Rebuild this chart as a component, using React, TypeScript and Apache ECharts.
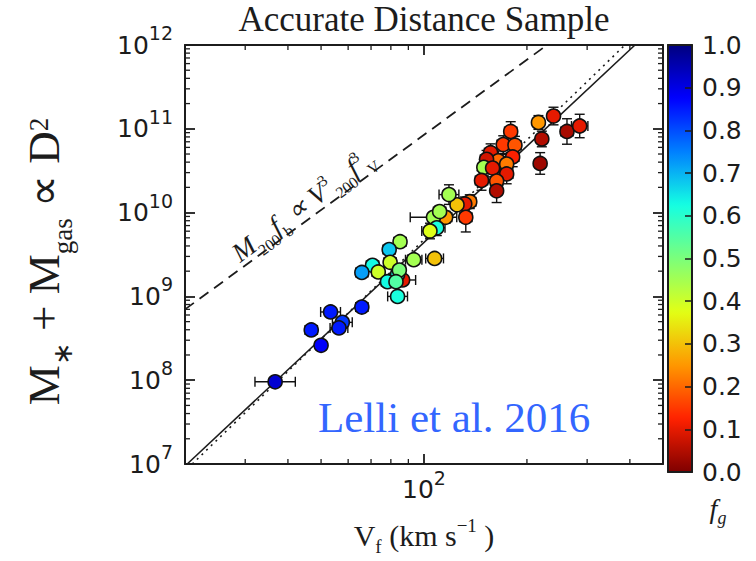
import React, { useEffect, useRef } from "react";
import * as echarts from "echarts";

// ---- Data (Lelli et al. 2016, accurate distance sample) ----
// Flat rotation velocity V_f (km/s)
const velocity = [
  179.3, 170.5, 184.5, 156.6, 181.7, 164.9, 152.4, 149.6, 158.7, 174.5,
  174.5, 147.3, 163.1, 163.1, 216.1, 239.2, 221.1, 218.6, 261.9, 285.3,
  136.1, 131.6, 124.9, 118.3, 132.5, 115.7, 106.6, 111.1, 109.0, 104.1,
  107.4, 93.3, 85.1, 79.1, 79.6, 70.7, 73.5, 65.8, 86.6, 83.7,
  84.7, 78.2, 82.8, 83.7,
  53.3, 65.8, 57.7, 56.4, 46.8, 50.0, 36.7,
];
// Baryonic mass M* + Mgas (solar masses)
const baryonicMass = [
  9.29e10, 6.48e10, 6.38e10, 5.19e10, 4.62e10, 4.15e10, 4.33e10, 3.47e10, 3.4e10, 3.79e10,
  2.89e10, 2.42e10, 2.38e10, 1.82e10, 1.19e11, 1.42e11, 7.56e10, 3.86e10, 9.29e10, 1.08e11,
  1.35e10, 1.27e10, 1.24e10, 1.64e10, 8.79e9, 8.79e9, 8.79e9, 1.03e10, 6.59e9, 6.03e9,
  2.84e9, 2.74e9, 4.49e9, 3.62e9, 2.55e9, 2.35e9, 1.96e9, 1.93e9, 1.57e9, 1.83e9,
  2.06e9, 1.5e9, 1.5e9, 1.0e9,
  6.52e8, 7.46e8, 4.9e8, 4.21e8, 3.98e8, 2.61e8, 9.58e7,
];
// Gas fraction f_g (colour)
const gasFraction = [
  0.15, 0.15, 0.18, 0.1, 0.12, 0.2, 0.08, 0.45, 0.1, 0.22,
  0.1, 0.1, 0.18, 0.05, 0.25, 0.1, 0.05, 0.03, 0.04, 0.1,
  0.22, 0.1, 0.3, 0.45, 0.15, 0.25, 0.45, 0.45, 0.62, 0.38,
  0.3, 0.45, 0.45, 0.68, 0.4, 0.63, 0.4, 0.72, 0.1, 0.62,
  0.5, 0.63, 0.55, 0.62,
  0.85, 0.85, 0.82, 0.85, 0.85, 0.88, 0.92,
];
// Errors in dex
const velocityErrDex = [
  0.018, 0.018, 0.018, 0.018, 0.018, 0.018, 0.018, 0.015, 0.018, 0.018,
  0.018, 0.018, 0.018, 0.015, 0.015, 0.015, 0.015, 0.015, 0.018, 0.024,
  0.018, 0.018, 0.015, 0.029, 0.018, 0.018, 0.068, 0.018, 0.024, 0.024,
  0.026, 0.024, 0.018, 0.018, 0.018, 0.018, 0.018, 0.018, 0.038, 0.018,
  0.018, 0.018, 0.018, 0.029,
  0.029, 0.018, 0.029, 0.026, 0.018, 0.015, 0.059,
];
const massErrDex = [
  0.117, 0.105, 0.105, 0.105, 0.117, 0.117, 0.105, 0.093, 0.105, 0.117,
  0.117, 0.117, 0.117, 0.14, 0.082, 0.105, 0.093, 0.129, 0.152, 0.14,
  0.082, 0.082, 0.058, 0.117, 0.175, 0.07, 0.058, 0.07, 0.093, 0.093,
  0.047, 0.047, 0.058, 0.047, 0.047, 0.047, 0.047, 0.047, 0.047, 0.047,
  0.047, 0.047, 0.047, 0.058,
  0.047, 0.047, 0.047, 0.047, 0.047, 0.047, 0.035,
];

// Relations (end points, V in km/s, M in solar masses)
const fitRelation = [[20.3, 1e7], [414, 1e12]];
const slopeFourRelation = [[21, 1e7], [387, 1e12]];
const baryonFractionRelation = [[20, 7.0e8], [229, 1e12]];

// Axes
const xRange = [20, 500];
const yRange = [1e7, 1e12];
const xMajorTicks = [100];
const xMinorTicks = [20, 30, 40, 50, 60, 70, 80, 90, 200, 300, 400, 500];
const yMajorTicks = [1e7, 1e8, 1e9, 1e10, 1e11, 1e12];
const yDecades = [1e7, 1e8, 1e9, 1e10, 1e11];
const minorMultipliers = [2, 3, 4, 5, 6, 7, 8, 9];
const yMinorTicks = yDecades.flatMap((d) => minorMultipliers.map((m) => m * d));
const colorbarRange = [0, 1];
const colorbarStep = 0.1;
// reversed "jet" colormap, from f_g = 0 to f_g = 1
const jetReversed = [
  "#7F0000", "#FF2100", "#FF9700", "#E2FF15", "#7BFF7B",
  "#15FFE2", "#0080FF", "#0000FF", "#00007F",
];

const INK = "#1c1c1c";
const SERIF = "Liberation Serif";
const SANS = "DejaVu Sans";
const MAJOR_LEN = 10;
const MINOR_LEN = 5;

function logAxis(dim: "x" | "y", position: string, showLine: boolean): any {
  const range = dim === "x" ? xRange : yRange;
  return {
    type: "log",
    logBase: 10,
    gridIndex: 0,
    position,
    min: range[0],
    max: range[1],
    axisLine: { show: showLine, onZero: false, lineStyle: { color: INK, width: 2 } },
    axisTick: { show: true, inside: true, length: MAJOR_LEN, lineStyle: { color: INK, width: 1.8 } },
    axisLabel: { show: false },
    splitLine: { show: false },
    minorTick: { show: false },
    minorSplitLine: { show: false },
    silent: true,
    z: 6,
  };
}

export default function App() {
  const ref = useRef<HTMLDivElement>(null);

  useEffect(() => {
    if (!ref.current) return;
    const chart = echarts.init(ref.current, null, { renderer: "svg" });

    const points = velocity.map((v, i) => [v, baryonicMass[i], gasFraction[i]]);
    const errorRows = velocity.map((v, i) => {
      const m = baryonicMass[i];
      const ex = Math.pow(10, velocityErrDex[i]);
      const ey = Math.pow(10, massErrDex[i]);
      return [v, m, v / ex, v * ex, m / ey, m * ey];
    });
    // minor tick rows: [x, y, direction(0 = x ticks, 1 = y ticks)]
    const minorTickRows = [
      ...xMinorTicks.map((v) => [v, yRange[0], 0]),
      ...yMinorTicks.map((v) => [xRange[0], v, 1]),
    ];

    const tickRich = {
      b: { fontFamily: SANS, fontSize: 25, lineHeight: 34, verticalAlign: "bottom", color: INK },
      s: { fontFamily: SANS, fontSize: 19, verticalAlign: "top", color: INK },
    };

    const xBottomMajor = logAxis("x", "bottom", true);
    xBottomMajor.axisLabel = {
      show: true,
      customValues: xMajorTicks,
      formatter: (v: number) => `{b|10}{s|${Math.round(Math.log10(v))}}`,
      margin: 4,
      rich: tickRich,
    };
    xBottomMajor.name = "{n|V}{sub|f}{n| (km s}{sup|−1}{n| )}";
    xBottomMajor.nameLocation = "middle";
    xBottomMajor.nameGap = 50;
    xBottomMajor.nameMoveOverlap = false;
    xBottomMajor.nameTextStyle = {
      rich: {
        n: { fontFamily: SERIF, fontSize: 30, lineHeight: 42, color: INK },
        sub: { fontFamily: SERIF, fontSize: 19, verticalAlign: "bottom", color: INK },
        sup: { fontFamily: SERIF, fontSize: 19, verticalAlign: "top", padding: [2, 0, 0, 0], color: INK },
      },
    };

    const yLeftMajor = logAxis("y", "left", true);
    yLeftMajor.axisLabel = {
      show: true,
      customValues: yMajorTicks,
      formatter: (v: number) => `{b|10}{s|${Math.round(Math.log10(v))}}`,
      margin: 12,
      padding: [0, 0, 9, 0],
      rich: tickRich,
    };
    yLeftMajor.name = "{n|M}{sub|∗}{n| + M}{sub|gas}{n| ∝ D}{sup|2}";
    yLeftMajor.nameLocation = "middle";
    yLeftMajor.nameGap = 109;
    yLeftMajor.nameMoveOverlap = false;
    yLeftMajor.nameTextStyle = {
      padding: [0, 14, 0, 0],
      rich: {
        n: { fontFamily: SERIF, fontSize: 45, lineHeight: 64, color: INK },
        sub: { fontFamily: SERIF, fontSize: 27, verticalAlign: "bottom", color: INK },
        sup: { fontFamily: SERIF, fontSize: 27, verticalAlign: "top", padding: [13, 0, 0, 0], color: INK },
      },
    };

    const cbarLine = { show: true, onZero: false, lineStyle: { color: INK, width: 2 } };
    const cbarX = (position: string) => ({
      type: "value", gridIndex: 1, position, min: 0, max: 1,
      axisLine: cbarLine, axisTick: { show: false }, axisLabel: { show: false },
      splitLine: { show: false }, silent: true, z: 10,
    });

    const eqRich = {
      i: { fontFamily: SERIF, fontStyle: "italic", fontSize: 27, lineHeight: 40, fill: INK, color: INK },
      sub: { fontFamily: SERIF, fontSize: 16, verticalAlign: "bottom", fill: INK, color: INK },
      sup: { fontFamily: SERIF, fontSize: 16, verticalAlign: "top", padding: [4, 0, 0, 0], fill: INK, color: INK },
    };

    const option: any = {
      animation: false,
      backgroundColor: "#ffffff",
      title: {
        text: "Accurate Distance Sample",
        left: 424,
        top: 2,
        textAlign: "center",
        padding: 0,
        textStyle: { fontFamily: SERIF, fontSize: 35, fontWeight: "normal", color: INK },
      },
      grid: [
        { left: 185, top: 45, width: 478, height: 427, containLabel: false },
        { left: 668, top: 45, width: 24, height: 427, containLabel: false },
      ],
      xAxis: [
        xBottomMajor,
        logAxis("x", "top", true),
        cbarX("bottom"),
        cbarX("top"),
      ],
      yAxis: [
        yLeftMajor,
        logAxis("y", "right", true),
        {
          type: "value", gridIndex: 1, position: "right",
          min: colorbarRange[0], max: colorbarRange[1], interval: colorbarStep,
          axisLine: cbarLine,
          axisTick: { show: true, inside: true, length: 7, lineStyle: { color: INK, width: 1.5 } },
          axisLabel: {
            formatter: (v: number) => v.toFixed(1),
            fontFamily: SANS, fontSize: 25, color: INK, margin: 10,
          },
          splitLine: { show: false }, silent: true, z: 10,
        },
        {
          type: "value", gridIndex: 1, position: "left",
          min: colorbarRange[0], max: colorbarRange[1],
          axisLine: cbarLine, axisTick: { show: false }, axisLabel: { show: false },
          splitLine: { show: false }, silent: true, z: 10,
        },
      ],
      visualMap: {
        type: "continuous",
        min: colorbarRange[0],
        max: colorbarRange[1],
        dimension: 2,
        seriesIndex: 3,
        inRange: { color: jetReversed },
        calculable: false,
        realtime: false,
        hoverLink: false,
        left: 668,
        top: 45,
        itemWidth: 24,
        itemHeight: 427,
        padding: 0,
        z: 1,
      },
      series: [
        {
          type: "line", data: fitRelation, symbol: "none", silent: true, z: 1,
          lineStyle: { color: INK, width: 1.6 },
        },
        {
          type: "line", data: slopeFourRelation, symbol: "none", silent: true, z: 1,
          lineStyle: { color: INK, width: 1.6, type: [2, 4.5] },
        },
        {
          type: "line", data: baryonFractionRelation, symbol: "none", silent: true, z: 1,
          lineStyle: { color: INK, width: 1.8, type: [11, 7] },
        },
        {
          type: "scatter", data: points, symbol: "circle", symbolSize: 14, silent: true, z: 3,
          itemStyle: { borderColor: "#111", borderWidth: 1.6, opacity: 1 },
        },
        {
          type: "custom", data: errorRows, silent: true, z: 2,
          encode: { x: 0, y: 1 },
          renderItem: (params: any, api: any) => {
            const c = api.coord([api.value(0), api.value(1)]);
            const xl = api.coord([api.value(2), api.value(1)]);
            const xh = api.coord([api.value(3), api.value(1)]);
            const yl = api.coord([api.value(0), api.value(4)]);
            const yh = api.coord([api.value(0), api.value(5)]);
            const cap = 5;
            const style = { stroke: "#111", lineWidth: 1.4 };
            const seg = (x1: number, y1: number, x2: number, y2: number) => ({
              type: "line", shape: { x1, y1, x2, y2 }, style,
            });
            return {
              type: "group",
              children: [
                seg(xl[0], c[1], xh[0], c[1]),
                seg(xl[0], c[1] - cap, xl[0], c[1] + cap),
                seg(xh[0], c[1] - cap, xh[0], c[1] + cap),
                seg(c[0], yl[1], c[0], yh[1]),
                seg(c[0] - cap, yl[1], c[0] + cap, yl[1]),
                seg(c[0] - cap, yh[1], c[0] + cap, yh[1]),
              ],
            };
          },
        },
        {
          // minor ticks of the log axes, drawn inward on all four sides of the frame
          type: "custom", data: minorTickRows, silent: true, z: 4,
          encode: { x: 0, y: 1 },
          renderItem: (params: any, api: any) => {
            const style = { stroke: INK, lineWidth: 1.3 };
            const isY = api.value(2) === 1;
            if (!isY) {
              const v = api.value(0);
              const b = api.coord([v, yRange[0]]);
              const t = api.coord([v, yRange[1]]);
              return {
                type: "group",
                children: [
                  { type: "line", shape: { x1: b[0], y1: b[1], x2: b[0], y2: b[1] - MINOR_LEN }, style },
                  { type: "line", shape: { x1: t[0], y1: t[1], x2: t[0], y2: t[1] + MINOR_LEN }, style },
                ],
              };
            }
            const v = api.value(1);
            const l = api.coord([xRange[0], v]);
            const r = api.coord([xRange[1], v]);
            return {
              type: "group",
              children: [
                { type: "line", shape: { x1: l[0], y1: l[1], x2: l[0] + MINOR_LEN, y2: l[1] }, style },
                { type: "line", shape: { x1: r[0], y1: r[1], x2: r[0] - MINOR_LEN, y2: r[1] }, style },
              ],
            };
          },
        },
      ],
      graphic: [
        {
          type: "text", x: 303, y: 205, rotation: 0.64, silent: true, z: 20,
          style: {
            text: "{i|M}{sub|200}{i|f}{sub|b}{i| ∝ V}{sup|3}{sub|200}{i|f}{sup|3}{sub|V}",
            rich: eqRich, align: "center", verticalAlign: "middle", fill: INK,
          },
        },
        {
          type: "text", x: 318, y: 417.5, silent: true, z: 20,
          style: {
            text: "Lelli et al. 2016", fontFamily: SERIF, fontSize: 43,
            fill: "#3366FF", align: "left", verticalAlign: "middle",
          },
        },
        {
          type: "text", x: 718, y: 508, silent: true, z: 20,
          style: {
            text: "{i|f}{s|g}",
            rich: {
              i: { fontFamily: SERIF, fontStyle: "italic", fontSize: 28, lineHeight: 38, fill: INK },
              s: { fontFamily: SERIF, fontStyle: "italic", fontSize: 18, verticalAlign: "bottom", fill: INK },
            },
            align: "center", verticalAlign: "middle", fill: INK,
          },
        },
      ],
    };

    chart.setOption(option);
    return () => chart.dispose();
  }, []);

  return (
    <div
      ref={ref}
      style={{ position: "fixed", left: 0, top: 0, width: 756, height: 561, background: "#fff" }}
    />
  );
}
